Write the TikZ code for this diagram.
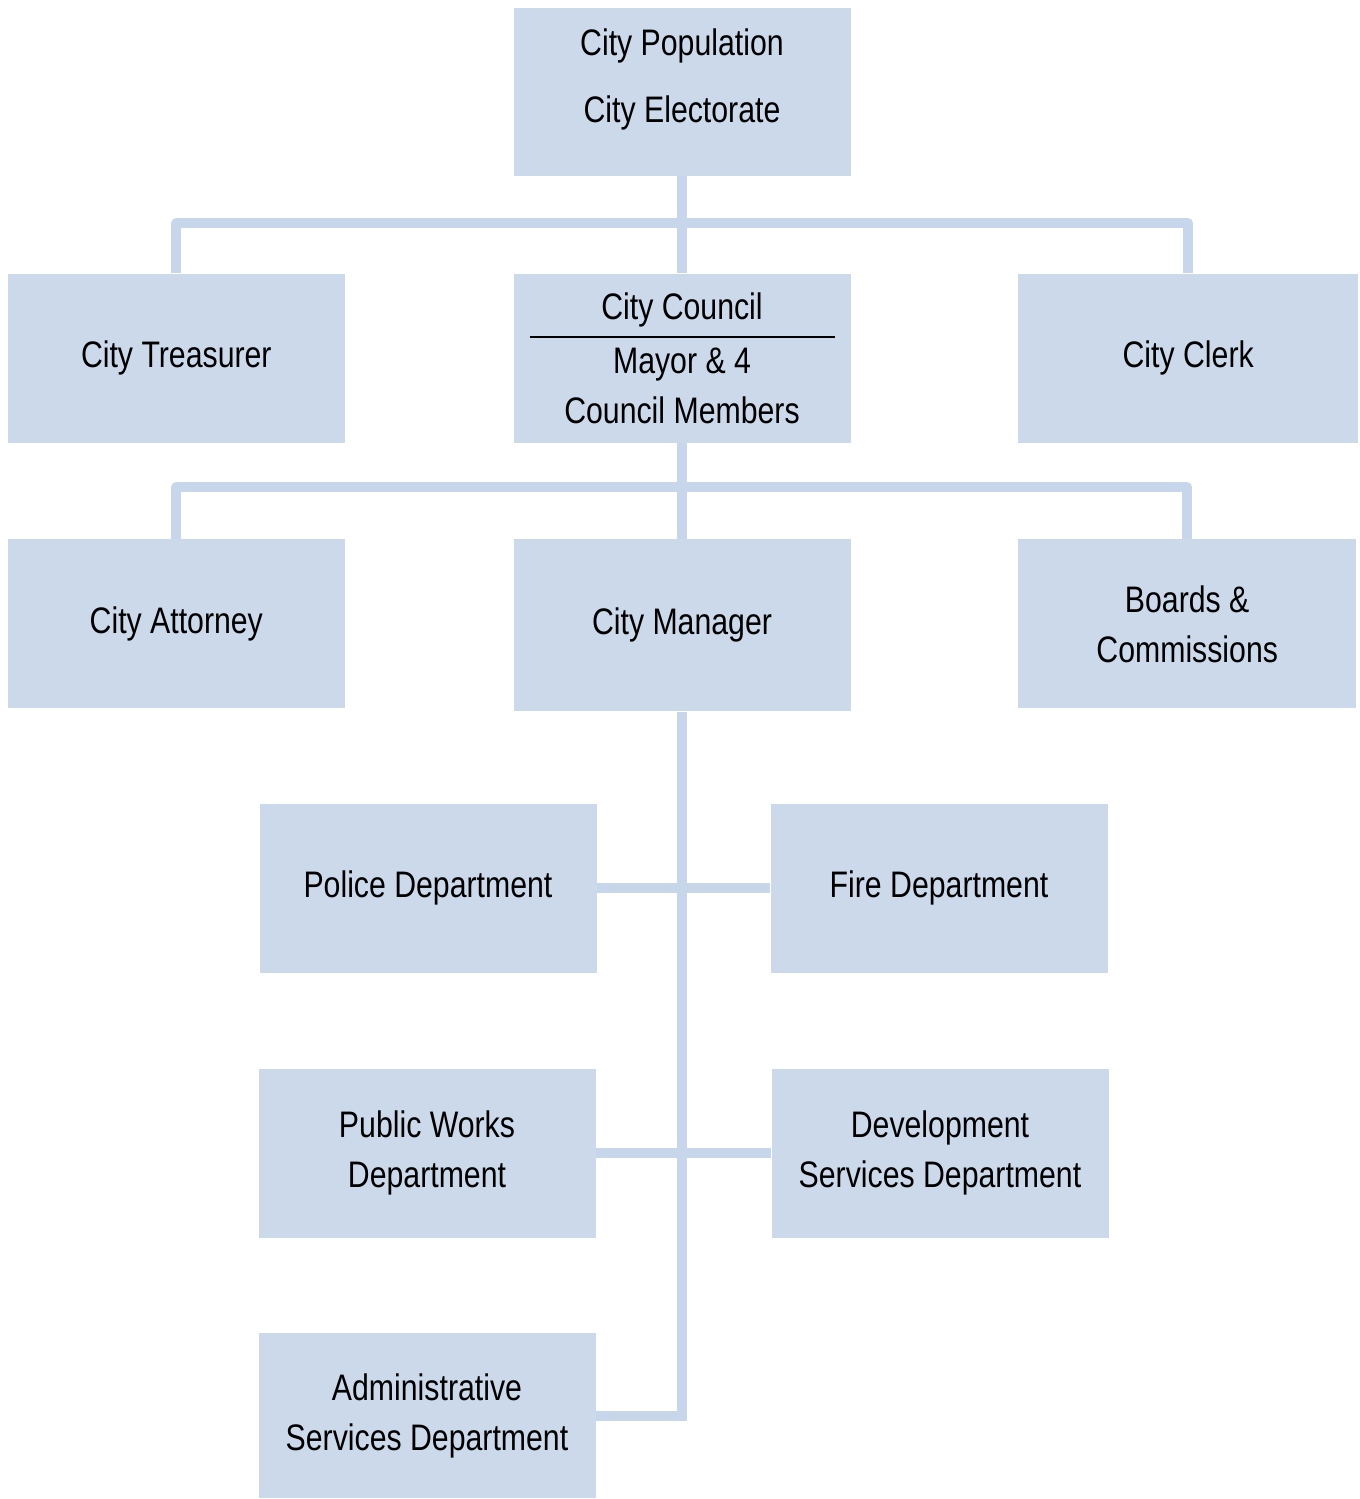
\documentclass[tikz,border=0pt]{standalone}
\usepackage{fontspec}
\setmainfont[FakeStretch=0.82]{Liberation Sans}
\usetikzlibrary{positioning}
\definecolor{orgfill}{RGB}{203,217,235}
\definecolor{orgline}{RGB}{199,214,234}

\begin{document}
\begin{tikzpicture}[
  node distance=1.94cm,
  unit/.style={fill=orgfill, minimum width=6.74cm, minimum height=3.38cm,
               inner sep=0pt, align=center, font=\fontsize{21}{28.5}\selectfont},
  link/.style={orgline, line width=5.7pt, line join=round},
]
\useasboundingbox (0,0) rectangle (27.18,-29.98);

% Top levels
\node[unit, minimum height=3.36cm] (pop) at (13.64,-1.84) {};
\node[align=center, font=\fontsize{21}{28.5}\selectfont] (popt) at ([yshift=0.25cm]pop.center)
  {City Population\\[9.5pt]City Electorate};
\node[unit, below=1.94cm of pop] (council) {City Council\\[2pt]Mayor \& 4\\Council Members};
\node[unit, left=3.36cm of council] (treas) {City Treasurer};
\node[unit, right=3.34cm of council, minimum width=6.8cm] (clerk) {City Clerk};

\node[unit, below=1.92cm of council, minimum height=3.44cm] (manager) {City Manager};
\node[unit, below=1.92cm of treas] (attorney) {City Attorney};
\node[unit, below=1.92cm of clerk, minimum width=6.76cm, xshift=-0.02cm] (boards) {Boards \&\\Commissions};

% Departments
\node[unit] (police) at (8.56,-17.76) {Police Department};
\node[unit] (fire) at (18.78,-17.76) {Fire Department};
\node[unit] (works) at (8.54,-23.06) {Public Works\\Department};
\node[unit] (devel) at (18.80,-23.06) {Development\\Services Department};
\node[unit, minimum height=3.3cm] (admin) at (8.54,-28.31) {Administrative\\Services Department};

% Rule in council box
\draw[line width=0.9pt] ([xshift=-3.05cm, yshift=0.42cm]council.center)
  -- ([xshift=3.05cm, yshift=0.42cm]council.center);

% Connectors
\draw[link] (pop) -- (council);
\draw[link] (treas.north) -- ++(0,1) -| (clerk.north);
\draw[link] (council) -- (manager);
\draw[link] (attorney.north) -- ++(0,1.04) -| (boards.north);

\coordinate (spineend) at (manager.south |- admin.east);
\draw[link] (manager.south) -- ([yshift=-0.1cm]spineend);
\draw[link] (police) -- (fire);
\draw[link] (works) -- (devel);
\draw[link] (admin) -- (spineend);
\end{tikzpicture}
\end{document}
